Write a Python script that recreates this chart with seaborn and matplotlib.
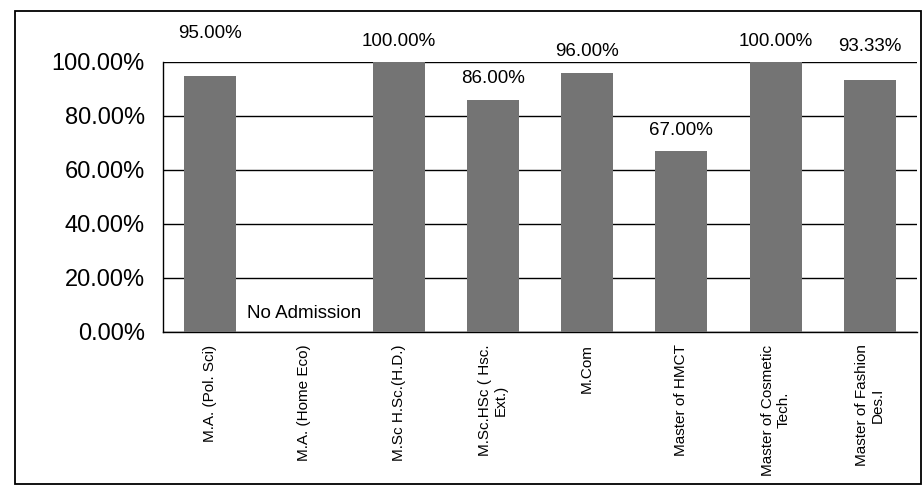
import numpy as np
import pandas as pd
import matplotlib
matplotlib.use('Agg')
import matplotlib.pyplot as plt
import seaborn as sns
from matplotlib.ticker import PercentFormatter, FixedLocator
from matplotlib.patches import Rectangle

# Data
courses = ['M.A. (Pol. Sci)', 'M.A. (Home Eco)', 'M.Sc H.Sc.(H.D.)', 'M.Sc.HSc ( Hsc.\nExt.)',
           'M.Com', 'Master of HMCT', 'Master of Cosmetic\nTech.', 'Master of Fashion\nDes.I']
result = [95.00, 0.0, 100.00, 86.00, 96.00, 67.00, 100.00, 93.33]
admitted = [True, False, True, True, True, True, True, True]
no_adm_text = 'No Admission'

# label lift above each bar (points), as placed in the original
label_lift = [24, 0, 9, 9, 9, 9, 9, 18]

df = pd.DataFrame({'course': courses, 'result': result})

sns.set_style('white')
plt.rcParams['font.family'] = ['Liberation Sans', 'DejaVu Sans']
plt.rcParams['text.color'] = 'black'
plt.rcParams['xtick.color'] = 'black'
plt.rcParams['ytick.color'] = 'black'

fig = plt.figure(figsize=(9.24, 5.01), dpi=100)
ax = fig.add_axes([163 / 924, 1 - 332 / 501, (917 - 163) / 924, (332 - 62) / 501])

sns.barplot(data=df, x='course', y='result', color='#747474', width=0.55,
            saturation=1, linewidth=0, ax=ax, zorder=3)

ax.set_ylim(0, 100)
ax.set_xlim(-0.5, len(courses) - 0.5)
ax.yaxis.set_major_locator(FixedLocator([0, 20, 40, 60, 80, 100]))
ax.yaxis.set_major_formatter(PercentFormatter(100, decimals=2))
ax.yaxis.grid(True, color='black', linewidth=1.0)
ax.set_axisbelow(True)
ax.set_xlabel('')
ax.set_ylabel('')

for s in ['top', 'right']:
    ax.spines[s].set_visible(False)
for s in ['left', 'bottom']:
    ax.spines[s].set_color('black')
    ax.spines[s].set_linewidth(1.0)

ax.tick_params(axis='y', length=5, width=1, color='black', direction='out',
               labelsize=17, pad=8)
ax.tick_params(axis='x', which='major', length=0, pad=9)
ax.set_xticks(np.arange(-0.5, len(courses)), minor=True)
ax.tick_params(axis='x', which='minor', length=6, width=1, color='black', direction='out')
ax.set_xticklabels(courses, rotation=90, fontsize=11, va='top', ha='center',
                   multialignment='center')

for i, (v, ok) in enumerate(zip(result, admitted)):
    if ok:
        ax.annotate(f'{v:.2f}%', (i, v), xytext=(0, label_lift[i]), textcoords='offset points',
                    ha='center', va='bottom', fontsize=13.5, annotation_clip=False)
    else:
        ax.text(i, 7, no_adm_text, ha='center', va='center', fontsize=13.5, zorder=4)

# outer chart border
fig.patches.append(Rectangle((15 / 924, 1 - 484 / 501), (921 - 15) / 924, (484 - 11) / 501,
                             transform=fig.transFigure, fill=False, edgecolor='black',
                             linewidth=1.3))

fig.savefig('out.png', dpi=100, facecolor='white')
